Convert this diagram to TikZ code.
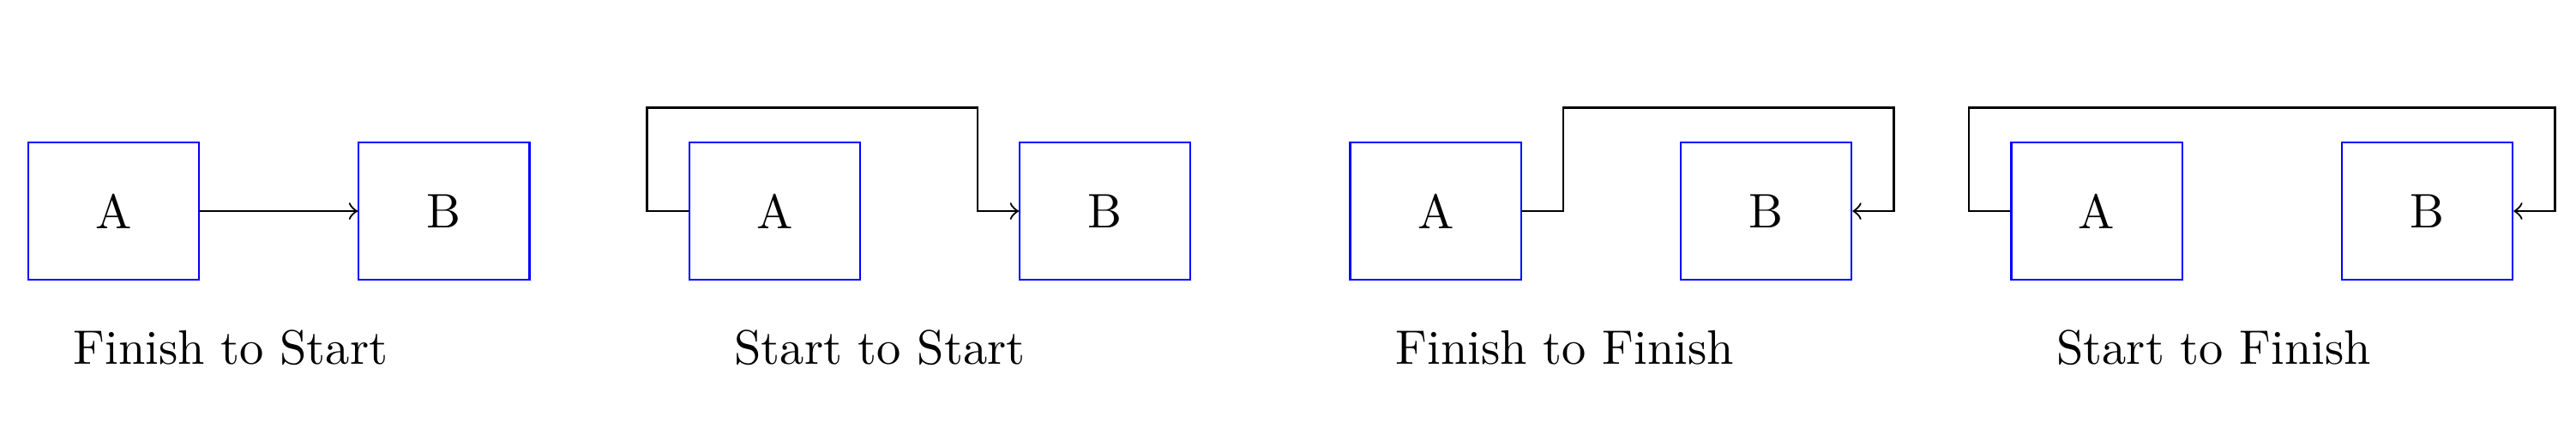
\documentclass[tikz,border=0pt]{standalone}
\usepackage{tikz}
\tikzset{task/.style={draw=blue, minimum width=1.24cm, minimum height=1cm}}

\begin{document}
\begin{tikzpicture}
\useasboundingbox (-0.824,-1.619) rectangle (17.88,1.532);
% Finish to Start
\node[task] (a1) at (0,0) {A};
\node[task] (b1) at (2.4,0) {B};
\draw[->] (a1.east) -- (b1.west);
\node[anchor=base west] (l1) at (-0.415,-1.108) {Finish to Start};

% Start to Start
\node[task] (a2) at (4.8,0) {A};
\node[task] (b2) at (7.2,0) {B};
\draw[->] (a2.west) -- ++(-0.3,0) -- ++(0,0.75) -| ([xshift=-3mm]b2.west) -- (b2.west);
\node[anchor=base west] (l2) at (4.385,-1.108) {Start to Start};

% Finish to Finish
\node[task] (a3) at (9.6,0) {A};
\node[task] (b3) at (12,0) {B};
\draw[->] (a3.east) -- ++(0.3,0) -- ++(0,0.75) -| ([xshift=3mm]b3.east) -- (b3.east);
\node[anchor=base west] (l3) at (9.185,-1.108) {Finish to Finish};

% Start to Finish
\node[task] (a4) at (14.4,0) {A};
\node[task] (b4) at (16.8,0) {B};
\draw[->] (a4.west) -- ++(-0.3,0) -- ++(0,0.75) -| ([xshift=3mm]b4.east) -- (b4.east);
\node[anchor=base west] (l4) at (13.985,-1.108) {Start to Finish};
\end{tikzpicture}
\end{document}
